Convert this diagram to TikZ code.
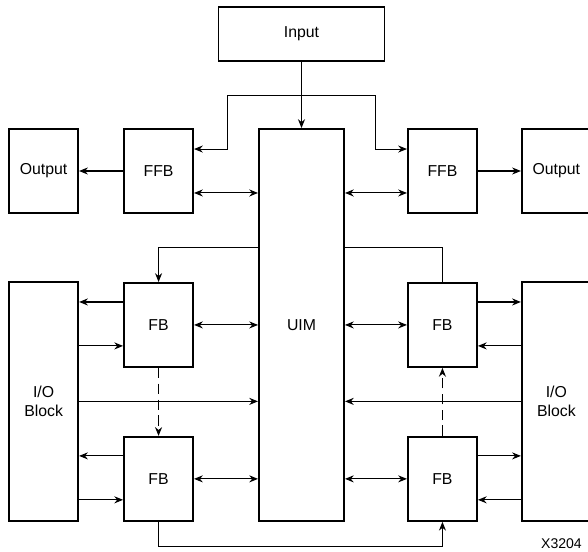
\documentclass[tikz,border=0pt]{standalone}
\usepackage{fontspec}
\setsansfont{Liberation Sans}
\usetikzlibrary{arrows.meta, positioning, calc}

\begin{document}
\begin{tikzpicture}[>={Stealth[length=5pt,width=4pt]}, every node/.style={font=\sffamily\fontsize{9}{11}\selectfont},
    blk/.style={rectangle, draw, line width=1.1pt, minimum width=1.38cm, minimum height=1.68cm, align=center, inner sep=1pt},
    wire/.style={line width=0.6pt}]
    \useasboundingbox (-6.03,-4.52) rectangle (5.73,6.50);

    % Interconnect matrix and input
    \node (UIM) [blk, minimum width=1.70cm, minimum height=7.84cm] at (0,0) {};
    \node (Input) [blk, minimum width=3.32cm, minimum height=1.08cm, above=1.32cm of UIM] {Input};

    % Fast function blocks and outputs
    \node (FFBL) [blk, left=1.28cm of UIM.north west, anchor=north east] {FFB};
    \node (OutL) [blk, left=0.88cm of FFBL] {Output};
    \node (FFBR) [blk, right=1.24cm of UIM.north east, anchor=north west] {FFB};
    \node (OutR) [blk, right=0.86cm of FFBR] {Output};

    % Function blocks
    \node (FBUL) [blk, below=1.36cm of FFBL] {FB};
    \node (FBLL) [blk, below=1.36cm of FBUL] {FB};
    \node (FBUR) [blk, below=1.36cm of FFBR] {FB};
    \node (FBLR) [blk, below=1.36cm of FBUR] {FB};

    % I/O blocks
    \node (IOL) [blk, minimum height=4.78cm, left=0.88cm of FBLL.south west, anchor=south east] {I/O\\Block};
    \node (IOR) [blk, minimum height=4.78cm, right=0.86cm of FBLR.south east, anchor=south west] {I/O\\Block};

    \node (UIMlbl) at (UIM.center |- FBUL.center) {UIM};
    \node (fig) [anchor=east, font=\sffamily\fontsize{8}{10}\selectfont] at (5.73,-4.38) {X3204};

    % Input feed
    \draw [->, wire] (Input) -- (UIM);
    \coordinate (brL) at ($(Input.south)+(-1.48,-0.66)$);
    \coordinate (brR) at ($(Input.south)+(1.48,-0.66)$);
    \draw [->, wire] (brL) |- ([yshift=-0.42cm]FFBL.north east);
    \draw [->, wire] (brL) -- (brR) |- ([yshift=-0.42cm]FFBR.north west);

    % FFB links
    \draw [<->, wire] ([yshift=0.42cm]FFBL.south east) -- ([yshift=0.42cm]FFBL.south east -| UIM.west);
    \draw [<->, wire] ([yshift=0.42cm]FFBR.south west) -- ([yshift=0.42cm]FFBR.south west -| UIM.east);
    \draw [->, wire] (FFBL) -- (OutL);
    \draw [->, wire] (FFBR) -- (OutR);

    % UIM taps
    \draw [->, wire] ([yshift=-2.38cm]UIM.north west) -| (FBUL.north);
    \draw [wire] ([yshift=-2.38cm]UIM.north east) -| (FBUR.north);

    % FB links
    \foreach \fb in {FBUL, FBLL} {
        \draw [<->, wire] (\fb) -- (\fb -| UIM.west);
        \draw [->, wire] ([yshift=-0.40cm]\fb.north west) -- ([yshift=-0.40cm]\fb.north west -| IOL.east);
        \draw [<-, wire] ([yshift=0.44cm]\fb.south west) -- ([yshift=0.44cm]\fb.south west -| IOL.east);
    }
    \foreach \fb in {FBUR, FBLR} {
        \draw [<->, wire] (\fb) -- (\fb -| UIM.east);
        \draw [->, wire] ([yshift=-0.40cm]\fb.north east) -- ([yshift=-0.40cm]\fb.north east -| IOR.west);
        \draw [<-, wire] ([yshift=0.44cm]\fb.south east) -- ([yshift=0.44cm]\fb.south east -| IOR.west);
    }
    \draw [->, wire] (IOL) -- (IOL -| UIM.west);
    \draw [->, wire] (IOR) -- (IOR -| UIM.east);

    % Cascade
    \draw [->, wire, dash pattern=on 6pt off 3pt] (FBUL) -- (FBLL);
    \draw [->, wire, dash pattern=on 6pt off 3pt] (FBLR) -- (FBUR);
    \draw [->, wire] (FBLL.south) -- ++(0,-0.50) -| (FBLR.south);
\end{tikzpicture}
\end{document}
